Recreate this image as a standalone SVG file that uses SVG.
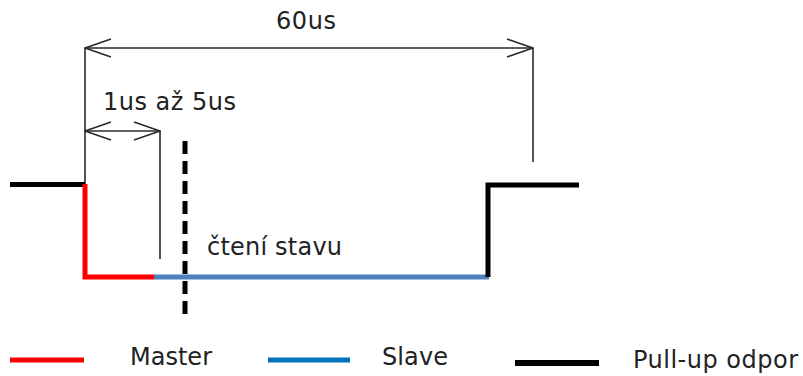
<svg xmlns="http://www.w3.org/2000/svg" width="803" height="376" viewBox="0 0 803 376">
  <defs>
    <marker id="open" viewBox="0 0 28 20" refX="27" refY="10" markerWidth="28" markerHeight="20" markerUnits="userSpaceOnUse" orient="auto-start-reverse">
      <path d="M1,1 L27,10 L1,19" fill="none" stroke="#2a2a2a" stroke-width="1.6"/>
    </marker>
  </defs>
  <style>
    .lbl { font-family: "DejaVu Sans", Verdana, sans-serif; font-size: 24px; fill: #222; }
    .thin { stroke: #2a2a2a; stroke-width: 1.6; fill: none; }
    .sig { fill: none; stroke-width: 5; stroke-linejoin: miter; }
  </style>
  <rect width="803" height="376" fill="#fff"/>

  <g id="connectors">
    <!-- 60us dimension -->
    <line class="thin" x1="85" y1="48" x2="85" y2="184"/>
    <line class="thin" x1="533" y1="48" x2="533" y2="162"/>
    <line class="thin" x1="85" y1="48" x2="533" y2="48" marker-start="url(#open)" marker-end="url(#open)"/>
    <!-- 1us až 5us dimension -->
    <line class="thin" x1="160" y1="131" x2="160" y2="259"/>
    <line class="thin" x1="85" y1="131" x2="160" y2="131" marker-start="url(#open)" marker-end="url(#open)"/>
  </g>

  <g id="signal">
    <polyline class="sig" stroke="#000" points="10,184.5 85,184.5"/>
    <polyline class="sig" stroke="#ff0000" points="85,184 85,277 154,277"/>
    <line class="sig" stroke="#4f81bd" x1="154" y1="277" x2="489" y2="277"/>
    <polyline class="sig" stroke="#000" points="488,277 488,185 579,185"/>
  </g>

  <g id="sample-mark">
    <line x1="185" y1="141" x2="185" y2="320" stroke="#000" stroke-width="5" stroke-dasharray="13 7"/>
  </g>

  <g id="labels">
    <text class="lbl" x="276" y="29" textLength="60" lengthAdjust="spacing">60us</text>
    <text class="lbl" x="103" y="110" textLength="133" lengthAdjust="spacing">1us až 5us</text>
    <text class="lbl" x="207" y="255" textLength="135" lengthAdjust="spacing">čtení stavu</text>
  </g>

  <g id="legend">
    <line x1="10" y1="360" x2="84" y2="360" stroke="#ff0000" stroke-width="5"/>
    <text class="lbl" x="130" y="365" textLength="82" lengthAdjust="spacing">Master</text>
    <line x1="268" y1="360" x2="350" y2="360" stroke="#0070c0" stroke-width="5"/>
    <text class="lbl" x="382" y="365" textLength="66" lengthAdjust="spacing">Slave</text>
    <line x1="515" y1="363" x2="599" y2="363" stroke="#000" stroke-width="6"/>
    <text class="lbl" x="633" y="368" textLength="165" lengthAdjust="spacing">Pull-up odpor</text>
  </g>
</svg>
